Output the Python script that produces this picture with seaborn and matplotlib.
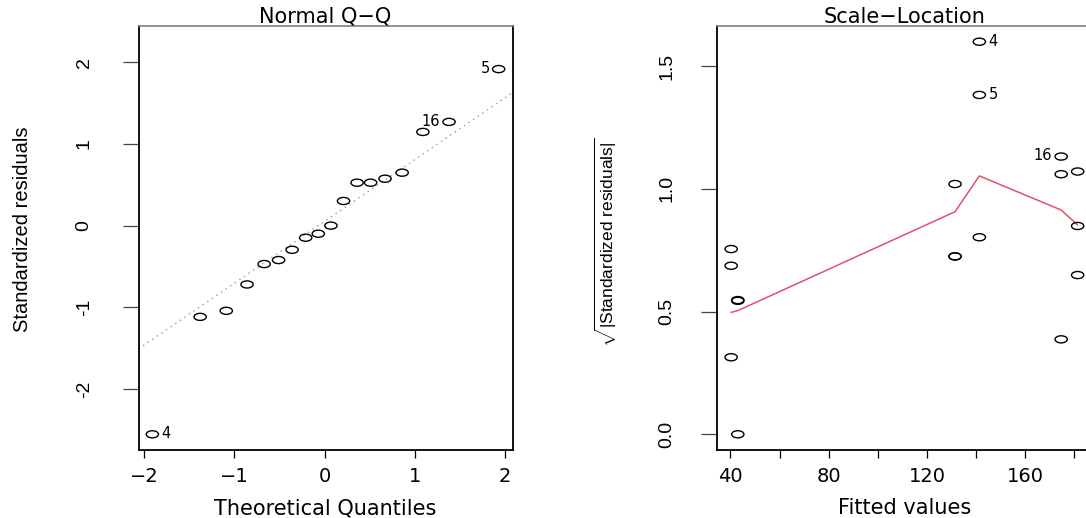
import numpy as np
import pandas as pd
import matplotlib
matplotlib.use("Agg")
import matplotlib.pyplot as plt
from matplotlib.path import Path
from matplotlib.transforms import Affine2D
from statistics import NormalDist
import seaborn as sns

# ---------------- data ----------------
qq_title = "Normal Q\u2212Q"
qq_xlabel = "Theoretical Quantiles"
qq_ylabel = "Standardized residuals"
qq_theoretical = [-1.91, -1.38, -1.09, -0.86, -0.67, -0.51, -0.36, -0.21, -0.07,
                  0.07, 0.21, 0.36, 0.51, 0.67, 0.86, 1.09, 1.38, 1.93]
qq_std_resid = [-2.557, -1.118, -1.044, -0.721, -0.471, -0.422, -0.296, -0.148, -0.099,
                0.00, 0.302, 0.526, 0.526, 0.575, 0.649, 1.148, 1.271, 1.918]
qq_point_labels = ["4", "", "", "", "", "", "", "", "",
                   "", "", "", "", "", "", "", "16", "5"]
qq_label_side = ["right", "", "", "", "", "", "", "", "",
                 "", "", "", "", "", "", "", "left", "left"]
qq_xticks = [-2, -1, 0, 1, 2]
qq_xticklabels = ["\u22122", "\u22121", "0", "1", "2"]
qq_yticks = [-2, -1, 0, 1, 2]
qq_yticklabels = ["-2", "-1", "0", "1", "2"]

sl_title = "Scale\u2212Location"
sl_xlabel = "Fitted values"
sl_ylabel = r"$\sqrt{|\mathrm{Standardized\ residuals}|}$"
sl_fitted = [40.3, 40.3, 43.0, 43.0, 40.3, 43.0,
             131.4, 131.4, 131.4, 141.3, 141.3, 141.3,
             174.6, 174.6, 174.6, 181.3, 181.3, 181.3]
sl_sqrt_resid = [0.755, 0.687, 0.547, 0.544, 0.314, 0.0,
                 1.020, 0.725, 0.725, 1.600, 1.383, 0.803,
                 1.132, 1.060, 0.387, 1.071, 0.849, 0.649]
sl_point_labels = ["", "", "", "", "", "",
                   "", "", "", "4", "5", "",
                   "16", "", "", "", "", ""]
sl_label_side = ["", "", "", "", "", "",
                 "", "", "", "right", "right", "",
                 "left", "", "", "", "", ""]
sl_smooth_x = [40.3, 43.0, 131.4, 141.3, 174.6, 181.3]
sl_smooth_y = [0.497, 0.504, 0.907, 1.053, 0.914, 0.853]
sl_xticks = [40, 60, 80, 100, 120, 140, 160, 180]
sl_xticklabels = ["40", "", "80", "", "120", "", "160", ""]
sl_yticks = [0.0, 0.5, 1.0, 1.5]
sl_yticklabels = ["0.0", "0.5", "1.0", "1.5"]

# ---------------- style ----------------
sns.set_style("white")
plt.rcParams["font.family"] = ["DejaVu Sans"]
for key in ["text.color", "axes.labelcolor", "xtick.color", "ytick.color"]:
    plt.rcParams[key] = "black"
VFONT = "Liberation Sans"
plt.rcParams["mathtext.fontset"] = "custom"
plt.rcParams["mathtext.rm"] = VFONT
plt.rcParams["mathtext.it"] = VFONT + ":italic"
plt.rcParams["mathtext.bf"] = VFONT + ":bold"

HSIZE = 15
TSIZE = 14
W, H = 1086, 518
fig = plt.figure(figsize=(W / 100, H / 100), dpi=100)
fig.patch.set_facecolor("white")

ellipse = Affine2D().scale(1.0, 0.58).transform_path(Path.unit_circle())


def r_limits(vals, top_extra=0.0, zero_low=False):
    lo, hi = min(vals), max(vals)
    if zero_low:
        lo = 0.0
    hi = hi + (hi - lo) * top_extra
    r = hi - lo
    return lo - 0.04 * r, hi + 0.04 * r


def style_axes(ax, ytick_pad):
    for side in ["left", "bottom", "right"]:
        ax.spines[side].set_color("black")
        ax.spines[side].set_linewidth(1.3)
    ax.spines["top"].set_color("#808080")
    ax.spines["top"].set_linewidth(1.2)
    ax.tick_params(axis="x", direction="out", length=5.8, width=0.9, color="black",
                   pad=6.5, labelsize=TSIZE, labelcolor="black", bottom=True)
    ax.tick_params(axis="y", direction="out", length=11.5, width=0.9, color="#444444",
                   pad=ytick_pad, labelsize=TSIZE, labelcolor="black",
                   labelrotation=90, left=True)
    for lab in ax.get_yticklabels():
        lab.set_fontfamily(VFONT)
        lab.set_va("center")
    ax.grid(False)


def add_labels(ax, xs, ys, labels, sides):
    for x, y, lab, side in zip(xs, ys, labels, sides):
        if not lab:
            continue
        dx = 6.5 if side == "right" else -6.5
        ax.annotate(lab, (x, y), xytext=(dx, 0.5), textcoords="offset points",
                    ha="left" if side == "right" else "right", va="center",
                    fontsize=10.5, color="black")


# ---------------- panel 1: Normal Q-Q ----------------
ax1 = fig.add_axes([138.5 / W, 68 / H, 374 / W, 424 / H])
df_qq = pd.DataFrame({"theoretical": qq_theoretical, "resid": qq_std_resid})
q1, q3 = np.percentile(qq_std_resid, [25, 75])
t1, t3 = NormalDist().inv_cdf(0.25), NormalDist().inv_cdf(0.75)
ax1.axline((t1, q1), (t3, q3), color="#9a9a9a", linestyle=(0, (1, 3)), lw=1.0, zorder=1)
sns.scatterplot(data=df_qq, x="theoretical", y="resid", ax=ax1, marker=ellipse, s=78,
                facecolors="none", edgecolor="black", linewidth=1.0, legend=False, zorder=3)
add_labels(ax1, qq_theoretical, qq_std_resid, qq_point_labels, qq_label_side)
ax1.set_xlim(*r_limits(qq_theoretical))
ax1.set_ylim(*r_limits(qq_std_resid, top_extra=0.075))
ax1.set_xticks(qq_xticks, qq_xticklabels)
ax1.set_yticks(qq_yticks, qq_yticklabels)
style_axes(ax1, 21.5)
ax1.set_title(qq_title, fontsize=HSIZE, pad=2.5)
ax1.set_xlabel(qq_xlabel, fontsize=HSIZE)
ax1.xaxis.set_label_coords(0.5, -0.137)
ax1.xaxis.label.set_va("center")
ax1.set_ylabel(qq_ylabel, fontsize=14.5, fontfamily=VFONT)
ax1.yaxis.set_label_coords(-0.31, 0.52)
ax1.yaxis.label.set_va("center")
ax1.yaxis.label.set_rotation_mode("default")

# ---------------- panel 2: Scale-Location ----------------
xl2 = r_limits(sl_fitted)
ax2_width = 374.2
ax2 = fig.add_axes([717.3 / W, 68 / H, ax2_width / W, 424 / H])
df_sl = pd.DataFrame({"fitted": sl_fitted, "sqrt_resid": sl_sqrt_resid})
df_smooth = pd.DataFrame({"fitted": sl_smooth_x, "smooth": sl_smooth_y})
sns.lineplot(data=df_smooth, x="fitted", y="smooth", ax=ax2, color="#DF536B", lw=1.1,
             estimator=None, sort=False, legend=False, zorder=2)
sns.scatterplot(data=df_sl, x="fitted", y="sqrt_resid", ax=ax2, marker=ellipse, s=78,
                facecolors="none", edgecolor="black", linewidth=1.0, legend=False, zorder=3)
add_labels(ax2, sl_fitted, sl_sqrt_resid, sl_point_labels, sl_label_side)
ax2.set_xlim(*xl2)
ax2.set_ylim(*r_limits(sl_sqrt_resid, zero_low=True))
ax2.set_xticks(sl_xticks, sl_xticklabels)
ax2.set_yticks(sl_yticks, sl_yticklabels)
style_axes(ax2, 18.5)
ax2.set_title(sl_title, fontsize=HSIZE, pad=2.5)
ax2.set_xlabel(sl_xlabel, fontsize=HSIZE)
ax2.xaxis.set_label_coords(0.5, -0.137)
ax2.xaxis.label.set_va("center")
ax2.set_ylabel(sl_ylabel, fontsize=12.5, fontfamily=VFONT)
ax2.yaxis.set_label_coords(-0.298, 0.49)
ax2.yaxis.label.set_va("center")
ax2.yaxis.label.set_rotation_mode("default")

fig.savefig("out.png", dpi=100, facecolor="white")
